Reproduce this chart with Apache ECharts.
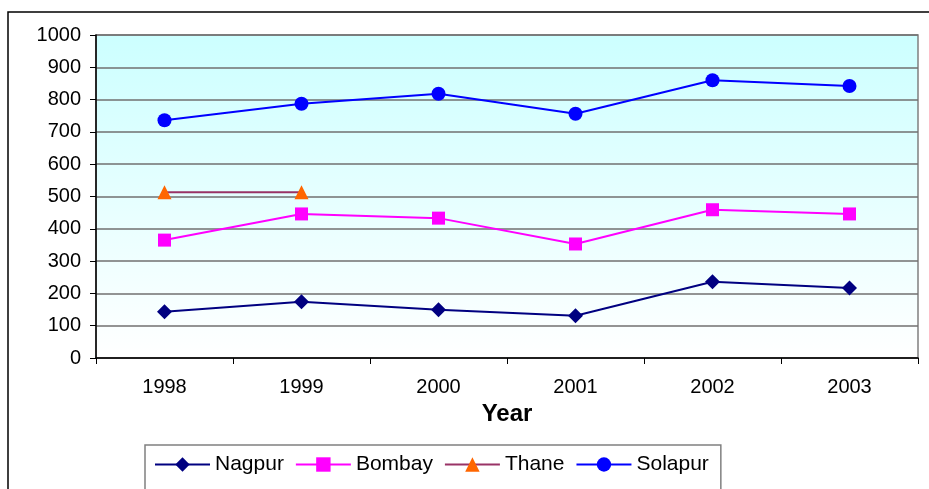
<!DOCTYPE html>
<html>
<head>
<meta charset="utf-8">
<script src="https://cdn.jsdelivr.net/npm/echarts@6/dist/echarts.min.js"></script>
<style>
html,body{margin:0;padding:0;background:#fff;}
#chart{width:929px;height:489px;}
</style>
</head>
<body>
<div id="chart"></div>
<script>
const years = ['1998', '1999', '2000', '2001', '2002', '2003'];
const nagpur = [143, 174, 149, 131, 236, 217];
const bombay = [365, 446, 433, 353, 459, 446];
const thane = [513, 513, null, null, null, null];
const solapur = [736, 787, 818, 756, 860, 842];
const yTicks = [0, 1000, 100];

const chart = echarts.init(document.getElementById('chart'));
const font = 'Liberation Sans, Arial, sans-serif';
chart.setOption({
  animation: false,
  backgroundColor: '#ffffff',
  graphic: [{
    type: 'rect',
    shape: { x: 8, y: 12, width: 940, height: 500 },
    style: { fill: 'none', stroke: '#000', lineWidth: 1.5 },
    z: -10
  }],
  grid: {
    left: 96, top: 35, right: 11, bottom: 131,
    show: true,
    borderColor: '#808080',
    borderWidth: 1.5,
    backgroundColor: new echarts.graphic.LinearGradient(0, 0, 0, 1, [
      { offset: 0, color: '#ccffff' },
      { offset: 1, color: '#ffffff' }
    ])
  },
  legend: {
    left: 145, top: 445,
    orient: 'horizontal',
    borderColor: '#808080', borderWidth: 1.5,
    padding: [9, 12, 40, 9],
    itemWidth: 55, itemHeight: 18, itemGap: 11,
    lineStyle: { width: 2 },
    textStyle: { fontFamily: font, fontSize: 21, color: '#000' },
    data: [
      { name: 'Nagpur' },
      { name: 'Bombay' },
      { name: 'Thane', itemStyle: { color: '#ff6600' }, lineStyle: { color: '#993366', width: 2 } },
      { name: 'Solapur' }
    ]
  },
  xAxis: {
    type: 'category',
    data: years,
    boundaryGap: true,
    name: 'Year',
    nameLocation: 'middle',
    nameGap: 42,
    nameTextStyle: { fontFamily: font, fontSize: 24, fontWeight: 'bold', color: '#000' },
    axisLine: { lineStyle: { color: '#000', width: 1.5 } },
    axisTick: { show: true, length: 6, inside: false, lineStyle: { color: '#000', width: 1 } },
    axisLabel: { fontFamily: font, fontSize: 20, color: '#000', margin: 19 },
    splitLine: { show: false }
  },
  yAxis: {
    type: 'value',
    min: yTicks[0], max: yTicks[1], interval: yTicks[2],
    axisLine: { show: true, lineStyle: { color: '#000', width: 1.5 } },
    axisTick: { show: true, length: 6, lineStyle: { color: '#000', width: 1 } },
    axisLabel: { fontFamily: font, fontSize: 20, color: '#000', margin: 15, formatter: v => String(v) },
    splitLine: { show: true, lineStyle: { color: '#707070', width: 1.5 } }
  },
  series: [
    {
      name: 'Nagpur', type: 'line', data: nagpur,
      symbol: 'diamond', symbolSize: 15,
      itemStyle: { color: '#000080' },
      lineStyle: { color: '#000080', width: 2 }
    },
    {
      name: 'Bombay', type: 'line', data: bombay,
      symbol: 'rect', symbolSize: 13,
      itemStyle: { color: '#ff00ff' },
      lineStyle: { color: '#ff00ff', width: 2 }
    },
    {
      name: 'Thane', type: 'line', data: thane,
      symbol: 'triangle', symbolSize: 14,
      itemStyle: { color: '#ff6600' },
      lineStyle: { color: '#993366', width: 2 }
    },
    {
      name: 'Solapur', type: 'line', data: solapur,
      symbol: 'circle', symbolSize: 14,
      itemStyle: { color: '#0000ff' },
      lineStyle: { color: '#0000ff', width: 2 }
    }
  ]
});
</script>
</body>
</html>
